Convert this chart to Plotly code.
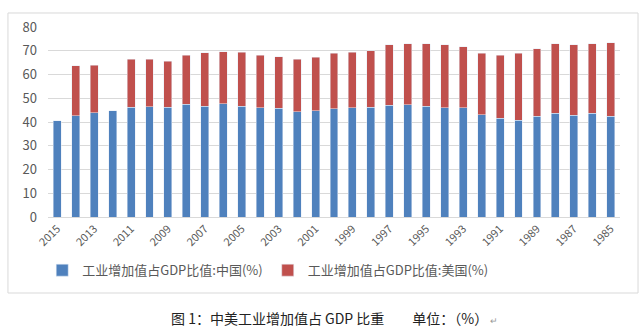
import plotly.graph_objects as go

years = [str(y) for y in range(2015, 1984, -1)]
china = [40.6, 42.7, 43.9, 44.8, 46.3, 46.5, 46.2, 47.4, 46.7, 47.7, 46.7, 46.0, 45.8, 44.4, 44.8,
         45.6, 45.9, 46.2, 47.0, 47.2, 46.7, 46.0, 46.0, 43.1, 41.5, 40.8, 42.4, 43.6, 42.8, 43.6, 42.5]
usa = [None, 20.9, 20.1, None, 20.1, 19.9, 19.3, 20.7, 22.4, 21.9, 22.6, 22.1, 21.6, 22.0, 22.4,
       23.3, 23.4, 23.8, 25.6, 25.8, 26.3, 26.6, 25.7, 25.8, 26.6, 28.1, 28.5, 29.4, 29.8, 29.4, 30.9]
tick_labels = years[::2]
name_cn = "工业增加值占GDP比值:中国(%)"
name_us = "工业增加值占GDP比值:美国(%)"
caption = "图 1：中美工业增加值占 GDP 比重　　单位：（%）<span style='font-size:9px;color:#999'> ↵</span>"

fig = go.Figure()
fig.add_trace(go.Bar(x=years, y=china, name=name_cn, marker_color="#4F81BD"))
fig.add_trace(go.Bar(x=years, y=usa, name=name_us, marker_color="#C0504D"))

fig.update_layout(
    width=640, height=328,
    barmode="stack", bargap=0.57,
    paper_bgcolor="white", plot_bgcolor="white",
    margin=dict(l=48, r=20, t=27, b=111),
    font=dict(family="Noto Sans CJK SC, Noto Sans, sans-serif", color="#595959"),
    showlegend=True,
    legend=dict(orientation="h", x=0.385, xanchor="center", y=-0.28, yanchor="middle",
                font=dict(size=13, color="#595959"), itemwidth=30, traceorder="normal"),
    xaxis=dict(type="category", tickvals=tick_labels, ticktext=tick_labels, tickangle=-45,
               tickfont=dict(size=11, color="#595959"), showline=True, linecolor="#D9D9D9",
               ticks=""),
    yaxis=dict(range=[0, 80], dtick=10, showgrid=True, gridcolor="#D9D9D9",
               tickfont=dict(size=13, color="#595959"), zeroline=False, ticks="",
               ticklabelstandoff=10),
    shapes=[dict(type="rect", xref="paper", yref="paper", x0=-0.07, x1=1.0315, y0=-0.4, y1=1.0737,
                 line=dict(color="#D9D9D9", width=1), fillcolor="rgba(0,0,0,0)", layer="below")],
    annotations=[dict(text=caption, xref="paper", yref="paper", x=0.5, y=-0.53,
                      xanchor="center", yanchor="middle", showarrow=False,
                      font=dict(size=14, color="#222222",
                                family="Noto Sans CJK SC, sans-serif"))],
)

fig.write_html("out.html")
